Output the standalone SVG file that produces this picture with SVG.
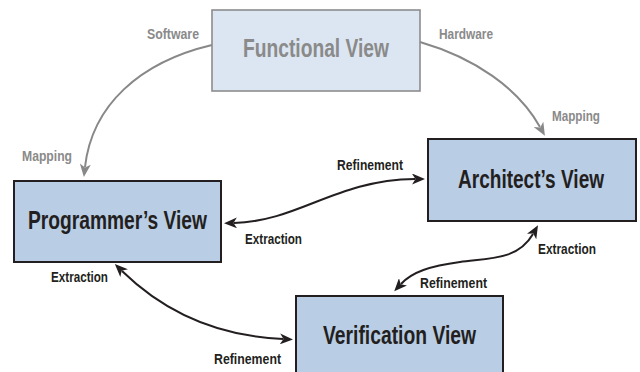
<svg xmlns="http://www.w3.org/2000/svg" width="640" height="372" viewBox="0 0 640 372">
<style>
.big{font-family:"Liberation Sans",Arial,sans-serif;font-weight:bold;font-size:25px;fill:#231f20}
.sm{font-family:"Liberation Sans",Arial,sans-serif;font-weight:bold;font-size:14.5px;fill:#231f20}
.gray{fill:#8a8a8a}
.box{fill:#b9cde5;stroke:#231f20;stroke-width:2}
.fbox{fill:#dce6f2;stroke:#8c8c8c;stroke-width:1.6}
.c{fill:none;stroke:#231f20;stroke-width:2}
.cg{fill:none;stroke:#888888;stroke-width:2}
</style>
<defs>
<marker id="ah" markerUnits="userSpaceOnUse" markerWidth="13" markerHeight="11" viewBox="0 0 13 11" refX="3" refY="5.5" orient="auto-start-reverse">
<path d="M0,0 L13,5.5 L0,11 L3.5,5.5 z" fill="#231f20"/>
</marker>
<marker id="ahg" markerUnits="userSpaceOnUse" markerWidth="13" markerHeight="11" viewBox="0 0 13 11" refX="3" refY="5.5" orient="auto-start-reverse">
<path d="M0,0 L13,5.5 L0,11 L3.5,5.5 z" fill="#888888"/>
</marker>
</defs>
<g id="connectors">
<path class="cg" d="M212,45 C140,62 92,105 85,167" marker-end="url(#ahg)"/>
<path class="cg" d="M420,42 C475,58 518,88 540,127" marker-end="url(#ahg)"/>
<path class="c" d="M234,223 C300,221 335,180 415,179" marker-start="url(#ah)" marker-end="url(#ah)"/>
<path class="c" d="M122,271 C160,308 210,336 283,339" marker-start="url(#ah)" marker-end="url(#ah)"/>
<path class="c" d="M533,234 C518,260 490,258 460,262 C430,266 412,272 401,284" marker-start="url(#ah)" marker-end="url(#ah)"/>
<text class="sm gray" x="147" y="39" textLength="52" lengthAdjust="spacingAndGlyphs">Software</text>
<text class="sm gray" x="439" y="39" textLength="54" lengthAdjust="spacingAndGlyphs">Hardware</text>
<text class="sm gray" x="22" y="161" textLength="50" lengthAdjust="spacingAndGlyphs">Mapping</text>
<text class="sm gray" x="552" y="121" textLength="48" lengthAdjust="spacingAndGlyphs">Mapping</text>
<text class="sm" x="337" y="170" textLength="66" lengthAdjust="spacingAndGlyphs">Refinement</text>
<text class="sm" x="245" y="244" textLength="57" lengthAdjust="spacingAndGlyphs">Extraction</text>
<text class="sm" x="51" y="282" textLength="57" lengthAdjust="spacingAndGlyphs">Extraction</text>
<text class="sm" x="214" y="364" textLength="67" lengthAdjust="spacingAndGlyphs">Refinement</text>
<text class="sm" x="538" y="254" textLength="58" lengthAdjust="spacingAndGlyphs">Extraction</text>
<text class="sm" x="420" y="288" textLength="67" lengthAdjust="spacingAndGlyphs">Refinement</text>
</g>
<g id="functional">
<rect class="fbox" x="212" y="10" width="208" height="81"/>
<text class="big gray" transform="scale(0.75,1)" x="324" y="57" font-size="22" textLength="194.7" lengthAdjust="spacingAndGlyphs">Functional View</text>
</g>
<g id="programmer">
<rect class="box" x="14" y="181" width="207" height="81"/>
<text class="big" transform="scale(0.75,1)" x="37.3" y="229" textLength="238.7" lengthAdjust="spacingAndGlyphs">Programmer’s View</text>
</g>
<g id="architect">
<rect class="box" x="428" y="139" width="208" height="82"/>
<text class="big" transform="scale(0.75,1)" x="610.7" y="188" textLength="194.7" lengthAdjust="spacingAndGlyphs">Architect’s View</text>
</g>
<g id="verification">
<rect class="box" x="296" y="296" width="207" height="84"/>
<text class="big" transform="scale(0.75,1)" x="430.7" y="344" textLength="204" lengthAdjust="spacingAndGlyphs">Verification View</text>
</g>
</svg>
